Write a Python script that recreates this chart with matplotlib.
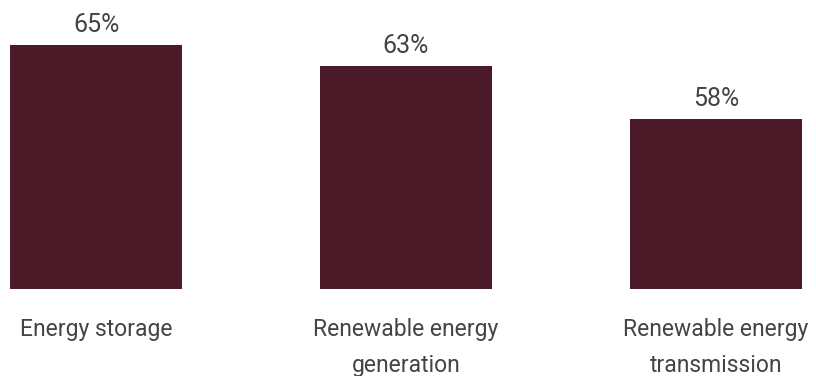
import matplotlib.pyplot as plt

# Data
categories = ['Energy storage', 'Renewable energy\ngeneration', 'Renewable energy\ntransmission']
values = [65, 63, 58]
labels = ['65%', '63%', '58%']

BAR_COLOR = '#4a1a29'
TEXT_COLOR = '#444444'

plt.rcParams['font.family'] = ['Roboto', 'DejaVu Sans']

fig = plt.figure(figsize=(8.16, 3.76), dpi=100)
ax = fig.add_axes([0, 87 / 376, 1, 289 / 376])

x = list(range(len(values)))
ax.bar(x, values, width=0.555, color=BAR_COLOR)

# axis does not start at zero in the original
ax.set_ylim(41.9, 69.3)
ax.set_xlim(-0.31, 2.323)
ax.axis('off')

for xi, v, lab in zip(x, values, labels):
    ax.annotate(lab, xy=(xi, v), xytext=(0, 9.5), textcoords='offset points',
                ha='center', va='baseline', fontsize=18, color=TEXT_COLOR)

for xi, cat in zip(x, categories):
    ax.annotate(cat, xy=(xi, 41.9), xytext=(0, -21), textcoords='offset points',
                ha='center', va='top', fontsize=16.5, color=TEXT_COLOR,
                linespacing=1.7, annotation_clip=False)

fig.savefig('out.png', dpi=100)
